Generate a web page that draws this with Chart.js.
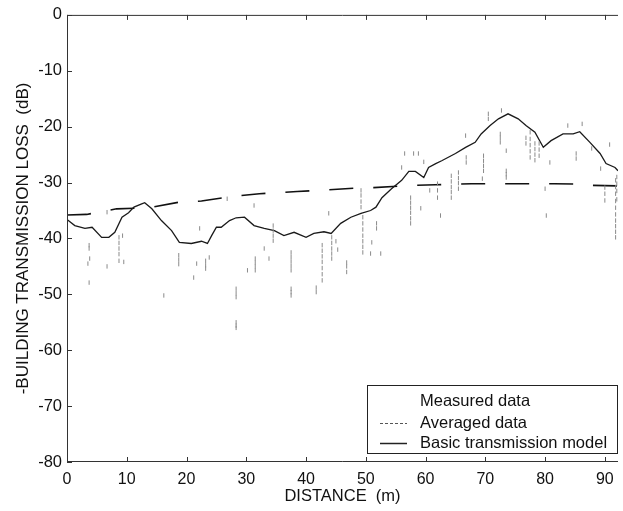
<!DOCTYPE html>
<html>
<head>
<meta charset="utf-8">
<script src="https://cdn.jsdelivr.net/npm/chart.js@4/dist/chart.umd.min.js"></script>
<style>
  html, body { margin: 0; padding: 0; background: #fff; }
  #wrap { width: 623px; height: 511px; }
</style>
</head>
<body>
<div id="wrap"><canvas id="chart"></canvas></div>
<script>
// averaged data
const avgX = [0, 1.3, 3, 4.2, 5.8, 7, 8, 9.2, 10.3, 11.2, 12.5, 13, 14.2, 15.8, 17.5, 18.8, 20.8, 22.5, 23.5, 24.2,
  25, 25.8, 27.2, 28.3, 29.7, 31.3, 33, 34.7, 36.3, 38, 40, 41.3, 43, 44.2, 45.8, 47.5, 49.2, 50.8, 51.7, 52.7,
  54.3, 56, 57.2, 58.3, 59.7, 60.5, 61.7, 62.7, 65, 66.7, 68.3, 69.3, 70.8, 72.2, 73.8, 75.5, 76.8, 78.3, 79.7,
  81, 83, 84.7, 85.8, 87.5, 89.2, 90.2, 91.7, 92.2];
const avgY = [-36.6, -37.7, -38.2, -38, -39.8, -39.8, -38.9, -36.2, -35.4, -34.4, -33.8, -33.6, -34.7, -36.8, -38.6, -40.7, -40.9, -40.5, -40.9, -39.5,
  -38, -38, -36.8, -36.3, -36.2, -37.7, -38.2, -38.6, -39.5, -38.9, -39.8, -39.1, -38.8, -39.1, -37.3, -36.2, -35.5, -35, -34.4, -32.7,
  -31.1, -29.6, -28, -28, -29.1, -27.3, -26.6, -26.1, -24.8, -23.7, -22.8, -21.3, -19.8, -18.6, -17.7, -18.6, -19.8, -21, -23.7,
  -22.5, -21.3, -21.3, -20.9, -22.8, -24.8, -26.6, -27.3, -27.9];

// basic transmission model
const modelX = [0, 3.3, 8.3, 13.8, 18.8, 22.5, 28.3, 32.2, 35.5, 38.5, 42.2, 48, 51.3, 57.8, 61.7, 67.7, 71.3, 77.7, 81.5, 87.5, 88, 92.2];
const modelY = [-35.8, -35.7, -34.7, -34.5, -33.5, -33.3, -32.4, -32, -31.8, -31.6, -31.4, -31, -30.9, -30.5, -30.4, -30.2, -30.2, -30.2, -30.2, -30.3, -30.5, -30.6];

// measured data samples [distance, dB]
const measured = [
  [3.7, -41.2], [3.7, -41.8], [3.8, -43.6], [3.5, -44.5], [3.7, -47.9],
  [6.7, -35.3], [6.7, -45],
  [8.7, -39.8], [8.7, -40.8], [8.7, -41.8], [8.7, -42.8], [8.7, -44],
  [9.3, -39.5], [9.5, -44.2], [16.2, -50.2],
  [18.7, -43], [18.7, -43.8], [18.7, -44.6],
  [21.2, -47], [21.7, -44.5], [22.2, -38.2],
  [23.2, -44], [23.2, -44.8], [23.2, -45.4], [23.8, -43.4],
  [26.8, -32.9],
  [28.3, -49], [28.3, -49.8], [28.3, -50.5], [28.3, -55], [28.3, -55.6], [28.3, -56],
  [30.2, -45.7], [31.3, -34.1],
  [31.5, -43.6], [31.5, -44.3], [31.5, -45], [31.5, -45.7],
  [33, -41.8], [33.8, -43.6],
  [34.5, -37.7], [34.5, -38.6], [34.5, -39.5], [34.5, -40.4],
  [37.5, -42.5], [37.5, -43.3], [37.5, -44.1], [37.5, -44.9], [37.5, -45.7],
  [37.5, -49], [37.5, -49.6], [37.5, -50.2],
  [41.7, -48.8], [41.7, -49.6],
  [42.7, -41.2], [42.7, -42.2], [42.7, -43.2], [42.7, -44.2], [42.7, -45.3], [42.7, -46.4], [42.7, -47.5],
  [43.8, -35.5],
  [44.3, -39.8], [44.3, -40.8], [44.3, -41.8], [44.3, -42.7], [44.3, -43.6],
  [45, -40.5], [45.3, -42],
  [46.8, -44.3], [46.8, -45], [46.8, -46],
  [49.2, -31.4], [49.2, -32.3], [49.2, -33.4], [49.2, -34.4],
  [49.5, -36.2], [49.5, -37.3], [49.5, -38.4], [49.5, -39.5], [49.5, -40.5], [49.5, -41.5], [49.5, -42.5],
  [50.8, -42.7], [51, -40.7], [51.8, -37.3], [51.8, -38.2], [52.5, -42.7],
  [56, -27.3], [56.5, -24.8], [58, -24.8], [58.8, -24.8], [59.7, -26.3],
  [57.5, -32.7], [57.5, -33.6], [57.5, -34.5], [57.5, -35.4], [57.5, -36.4], [57.5, -37.3],
  [59.2, -34.6], [60.7, -31.4], [62, -30.2], [62, -31.4], [62, -32.7], [62.5, -35.9],
  [64.3, -28.8], [64.3, -29.8], [64.3, -30.8], [64.3, -31.7], [64.3, -32.7],
  [65.5, -28.2], [65.5, -29.2], [65.5, -30.1], [65.5, -31.1],
  [66.7, -21.6], [66.8, -25.5], [66.8, -26.4],
  [69.5, -29.3], [69.7, -25.2], [69.7, -26.1], [69.7, -27], [69.7, -27.9],
  [70.5, -17.7], [70.5, -18.6],
  [72.7, -17.1], [72.5, -21.3], [72.5, -22], [72.5, -22.8],
  [73.5, -24.3], [73.5, -27.9], [73.5, -28.5], [73.5, -29.1],
  [76.8, -22], [76.8, -23],
  [77.5, -21], [77.5, -22.2], [77.5, -23.3], [77.5, -24.4], [77.5, -25.5],
  [78.3, -23], [78.3, -24], [78.3, -25], [78.3, -26],
  [79, -23], [79, -24.1], [79, -25.2],
  [80, -31.1], [80.2, -35.9], [80.8, -26.4],
  [83.8, -19.8], [85.2, -24.8], [85.2, -25.7], [86.2, -19.5],
  [87.8, -23.9], [89.3, -27.5], [90.8, -23.2],
  [90, -30.9], [90, -32], [90, -33.2],
  [91.8, -29.6], [91.8, -30.8], [91.8, -32], [91.8, -33.3], [91.8, -34.5], [91.8, -35.7],
  [91.8, -36.8], [91.8, -37.8], [91.8, -38.8], [91.8, -39.8],
  [92, -29], [92, -30.2], [92, -31.5], [92, -33]
];

const xTicks = [0, 10, 20, 30, 40, 50, 60, 70, 80, 90];
const yTicks = [0, -10, -20, -30, -40, -50, -60, -70, -80];

const FONT = 'Liberation Sans, Arial, Helvetica, sans-serif';

// matlab-like frame: box lines with inward ticks
const frame = {
  id: 'frame',
  afterDatasetsDraw(chart) {
    const {ctx, chartArea: a, scales: {x, y}} = chart;
    ctx.save();
    ctx.strokeStyle = '#333';
    ctx.lineWidth = 1;
    ctx.beginPath();
    ctx.moveTo(a.left + 0.5, a.top + 0.5);
    ctx.lineTo(a.left + 0.5, a.bottom - 0.5);
    ctx.lineTo(a.right, a.bottom - 0.5);
    ctx.moveTo(a.left, a.top + 0.5);
    ctx.lineTo(a.right, a.top + 0.5);
    xTicks.forEach(v => {
      const px = Math.round(x.getPixelForValue(v)) + 0.5;
      ctx.moveTo(px, a.bottom); ctx.lineTo(px, a.bottom - 5);
      ctx.moveTo(px, a.top); ctx.lineTo(px, a.top + 5);
    });
    yTicks.forEach(v => {
      const py = Math.round(y.getPixelForValue(v)) + 0.5;
      ctx.moveTo(a.left, py); ctx.lineTo(a.left + 5, py);
    });
    ctx.stroke();
    ctx.restore();
  }
};

// legend box in the lower right corner of the plot
const boxLegend = {
  id: 'boxLegend',
  afterDraw(chart) {
    const {ctx, chartArea: a} = chart;
    const left = a.left + 300, top = a.bottom - 77, bottom = a.bottom - 9;
    ctx.save();
    ctx.fillStyle = '#fff';
    ctx.fillRect(left, top, a.right - left, bottom - top);
    ctx.strokeStyle = '#222';
    ctx.lineWidth = 1;
    ctx.strokeRect(left + 0.5, top + 0.5, a.right - left - 1, bottom - top);
    ctx.font = '16.5px ' + FONT;
    ctx.fillStyle = '#111';
    ctx.textBaseline = 'middle';
    const rows = [
      {label: chart.data.datasets[0].label, y: top + 16},
      {label: chart.data.datasets[1].label, y: top + 38, dash: [3, 2], width: 1, color: '#555'},
      {label: chart.data.datasets[2].label, y: top + 58, dash: [], width: 1.5, color: '#222'}
    ];
    rows.forEach(r => {
      if (r.color) {
        ctx.beginPath();
        ctx.setLineDash(r.dash);
        ctx.lineWidth = r.width;
        ctx.strokeStyle = r.color;
        ctx.moveTo(left + 13, r.y + 0.5);
        ctx.lineTo(left + 40, r.y + 0.5);
        ctx.stroke();
      }
      ctx.fillText(r.label, left + 53, r.y);
    });
    ctx.restore();
  }
};

new Chart(document.getElementById('chart'), {
  type: 'scatter',
  data: {
    datasets: [
      {
        label: 'Measured data',
        data: measured.map(p => ({x: p[0], y: p[1]})),
        pointStyle: 'line',
        rotation: 90,
        pointRadius: 2.2,
        borderColor: '#8a8a8a',
        borderWidth: 1,
        showLine: false
      },
      {
        label: 'Averaged data',
        data: avgX.map((v, i) => ({x: v, y: avgY[i]})),
        showLine: true,
        borderColor: '#1a1a1a',
        borderWidth: 1.3,
        pointRadius: 0
      },
      {
        label: 'Basic transmission model',
        data: modelX.map((v, i) => ({x: v, y: modelY[i]})),
        showLine: true,
        borderColor: '#111',
        borderWidth: 1.6,
        borderDash: [24, 20],
        pointRadius: 0
      }
    ]
  },
  options: {
    responsive: true,
    maintainAspectRatio: false,
    animation: false,
    layout: {padding: {top: 14, right: 0, left: 0, bottom: 0}},
    plugins: {legend: {display: false}, tooltip: {enabled: false}},
    scales: {
      x: {
        type: 'linear',
        min: 0,
        max: 92.2,
        grid: {display: false, drawTicks: false},
        border: {display: false},
        ticks: {
          stepSize: 10,
          includeBounds: false,
          padding: 8,
          color: '#111',
          font: {family: FONT, size: 16}
        },
        title: {
          display: true,
          text: 'DISTANCE  (m)',
          color: '#111',
          font: {family: FONT, size: 16.5},
          padding: {top: 0, bottom: 5}
        },
        afterFit: s => { s.height = 49; }
      },
      y: {
        type: 'linear',
        min: -80,
        max: 0,
        grid: {display: false, drawTicks: false},
        border: {display: false},
        ticks: {
          stepSize: 10,
          padding: 5,
          color: '#111',
          font: {family: FONT, size: 16.5}
        },
        title: {
          display: true,
          text: '-BUILDING TRANSMISSION LOSS  (dB)',
          color: '#111',
          font: {family: FONT, size: 17},
          padding: {top: 13, bottom: 0}
        },
        afterFit: s => { s.width = 67; }
      }
    }
  },
  plugins: [frame, boxLegend]
});
</script>
</body>
</html>
